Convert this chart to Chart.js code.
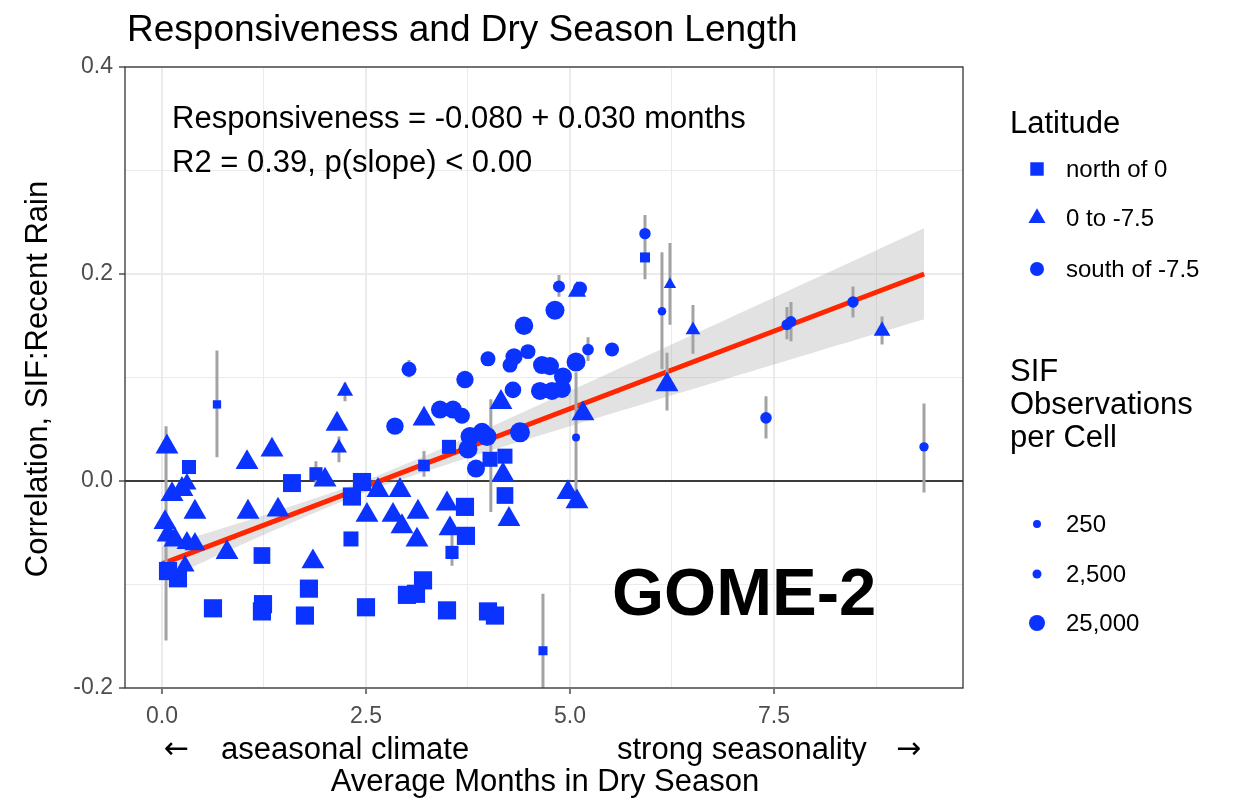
<!DOCTYPE html>
<html>
<head>
<meta charset="utf-8">
<script src="https://cdn.jsdelivr.net/npm/chart.js@4"></script>
<style>
  html, body { margin: 0; padding: 0; background: #fff; }
  #wrap { width: 1236px; height: 800px; }
</style>
</head>
<body>
<div id="wrap"><canvas id="dryChart" width="1236" height="800"></canvas></div>
<script>
// latitude groups: x = months in dry season, y = correlation, obs = SIF observations per cell
const northX = [0.674, 0.331, 1.593, 1.887, 2.451, 2.328, 3.211, 3.517, 3.713, 3.725, 3.554, 2.316, 1.225, 0.074, 0.196, 0.625,
    1.238, 1.225, 1.752, 1.801, 2.500, 3.002, 3.113, 3.199, 3.493, 3.995, 4.081, 4.669, 4.203, 4.020, 4.203, 5.919]
const northY = [0.074, 0.0135, -0.002, 0.007, -0.001, -0.015, 0.015, 0.033, -0.025, -0.053, -0.069, -0.056, -0.072, -0.087, -0.094, -0.123,
    -0.119, -0.126, -0.130, -0.104, -0.122, -0.110, -0.109, -0.096, -0.125, -0.126, -0.130, -0.164, -0.014, 0.021, 0.024, 0.216]
const northObs = [1600, 19500, 37000, 16000, 38000, 38000, 11000, 19500, 38000, 38000, 16000, 23500, 31000, 38000, 38000, 38000,
    38000, 38000, 38000, 38000, 38000, 38000, 38000, 38000, 38000, 38000, 38000, 3400, 31000, 23500, 23500, 6000]

const midX = [0.061, 0.123, 0.245, 0.306, 0.404, 0.037, 0.074, 0.159, 0.306, 0.404, 0.797, 0.282, 1.042, 1.348, 1.054, 1.422,
    1.850, 1.998, 2.243, 2.145, 2.169, 2.512, 2.647, 2.917, 2.831, 2.941, 3.137, 3.125, 3.493, 3.529, 3.211, 4.154,
    4.179, 4.252, 4.975, 5.086, 5.159, 5.086, 6.225, 6.507, 6.189, 8.824]
const midY = [0.033, -0.013, -0.008, -0.003, -0.030, -0.040, -0.052, -0.057, -0.060, -0.061, -0.069, -0.082, 0.018, 0.030, -0.030, -0.028,
    -0.078, 0.001, 0.087, 0.055, 0.032, -0.033, -0.009, -0.009, -0.033, -0.044, -0.030, -0.057, -0.022, -0.046, 0.060, 0.076,
    0.006, -0.037, -0.011, -0.020, 0.065, 0.183, 0.190, 0.146, 0.093, 0.145]
const midObs = [38000, 38000, 38000, 24000, 38000, 38000, 38000, 38000, 30000, 30000, 38000, 24000, 38000, 38000, 38000, 38000,
    38000, 38000, 15000, 38000, 14500, 38000, 38000, 38000, 38000, 38000, 38000, 38000, 38000, 38000, 38000, 38000,
    38000, 38000, 38000, 38000, 38000, 21000, 5300, 11000, 38000, 16500]

const southX = [3.027, 2.855, 3.407, 3.566, 3.676, 3.713, 3.775, 3.922, 3.983, 3.750, 3.848, 4.387, 3.995, 4.314, 4.485, 4.265,
    4.301, 4.436, 4.816, 4.865, 5.123, 4.657, 4.755, 4.914, 4.632, 4.779, 4.902, 5.074, 5.074, 5.221, 5.515, 5.919,
    6.127, 7.659, 7.708, 8.468, 7.402, 9.338]
const southY = [0.108, 0.053, 0.069, 0.069, 0.063, 0.098, 0.043, 0.047, 0.043, 0.031, 0.012, 0.047, 0.118, 0.120, 0.125, 0.112,
    0.088, 0.150, 0.165, 0.188, 0.186, 0.112, 0.111, 0.101, 0.087, 0.087, 0.089, 0.115, 0.042, 0.127, 0.127, 0.239,
    0.164, 0.151, 0.154, 0.173, 0.061, 0.033]
const southObs = [21000, 31000, 34000, 34000, 25000, 31000, 38500, 38500, 38500, 38500, 34000, 43500, 21000, 30000, 21000, 21000,
    27500, 36500, 38500, 10600, 17300, 34000, 34000, 34000, 34000, 34000, 34000, 38500, 250, 9300, 17300, 8800,
    1500, 7600, 7600, 8800, 9300, 3400]

// interval bars that stick out from behind the markers
const errX = [0.674, 0.05, 3.211, 3.554, 4.669, 4.030, 2.243, 2.169, 1.887, 6.225, 6.507, 6.189, 8.824,
    3.027, 4.865, 5.074, 5.221, 5.919, 6.127, 7.659, 7.708, 8.468, 7.402, 9.338]
const errLo = [0.023, -0.154, 0.004, -0.082, -0.215, -0.030, 0.077, 0.018, -0.005, 0.151, 0.123, 0.068, 0.132,
    0.100, 0.178, -0.017, 0.116, 0.195, 0.108, 0.137, 0.135, 0.158, 0.041, -0.011]
const errHi = [0.126, 0.053, 0.029, -0.051, -0.109, 0.079, 0.095, 0.043, 0.019, 0.230, 0.170, 0.124, 0.159,
    0.117, 0.199, 0.105, 0.139, 0.257, 0.221, 0.168, 0.173, 0.188, 0.082, 0.075]

// fitted line and its confidence ribbon
const fitX = [0, 9.34]
const fitY = [-0.080, 0.200]
const bandX = [0, 1.25, 2.5, 3.75, 5, 6.25, 7.5, 8.75, 9.34]
const bandLo = [-0.0965, -0.052, -0.0107, 0.0225, 0.0529, 0.0828, 0.1126, 0.1423, 0.1563]
const bandHi = [-0.0635, -0.033, 0.0007, 0.0425, 0.0871, 0.1322, 0.1774, 0.2227, 0.2441]

const xTicks = [0, 1.25, 2.5, 3.75, 5, 6.25, 7.5, 8.75]
const yTicks = [-0.2, -0.1, 0, 0.1, 0.2, 0.3, 0.4]
const latLabels = ['north of 0', '0 to -7.5', 'south of -7.5']
const sizeLegend = [250, 2500, 25000]

const blue = '#0a33ff'
const font = "'Liberation Sans', Arial, Helvetica, sans-serif"
const shapeScale = { rect: 1.36, triangle: 1.4, circle: 1 }

function radiusFor (obs) {
    return Math.sqrt(15.5 + 0.00194 * obs)
}

const toPoints = (xs, ys) => xs.map((x, i) => ({ x: x, y: ys[i] }))

const isMajor = (v, step) => Math.abs(v / step - Math.round(v / step)) < 1e-6

const errPoints = []
errX.forEach((x, i) => {
    errPoints.push({ x: x, y: errLo[i] }, { x: x, y: errHi[i] }, { x: x, y: null })
})

const markerSet = (label, style, xs, ys, obs, order) => ({
    label: label,
    data: toPoints(xs, ys),
    pointStyle: style,
    pointRadius: obs.map(o => radiusFor(o) * shapeScale[style]),
    backgroundColor: blue,
    borderWidth: 0,
    showLine: false,
    order: order,
})

const decorations = {
    id: 'decorations',
    beforeDatasetsDraw (chart) {
        const { ctx, chartArea, scales } = chart
        const y0 = scales.y.getPixelForValue(0)
        ctx.save()
        ctx.strokeStyle = '#000'
        ctx.lineWidth = 1.5
        ctx.beginPath()
        ctx.moveTo(chartArea.left, y0)
        ctx.lineTo(chartArea.right, y0)
        ctx.stroke()
        ctx.restore()
    },
    afterDatasetsDraw (chart) {
        const { ctx, chartArea } = chart
        ctx.save()
        ctx.strokeStyle = '#333'
        ctx.lineWidth = 1.3
        ctx.strokeRect(chartArea.left, chartArea.top, chartArea.right - chartArea.left, chartArea.bottom - chartArea.top)
        ctx.restore()
    },
    afterDraw (chart) {
        const ctx = chart.ctx
        ctx.save()
        ctx.fillStyle = '#000'
        ctx.textBaseline = 'middle'
        ctx.textAlign = 'left'

        ctx.font = '37px ' + font
        ctx.fillText('Responsiveness and Dry Season Length', 127, 31)

        ctx.font = '31px ' + font
        ctx.fillText('Responsiveness = -0.080 + 0.030 months', 172, 119)
        ctx.fillText('R2 = 0.39, p(slope) < 0.00', 172, 163)

        ctx.font = 'bold 67px ' + font
        ctx.fillText('GOME-2', 612, 597)

        // axis titles
        ctx.font = '31px ' + font
        ctx.fillText('aseasonal climate', 221, 750)
        ctx.fillText('strong seasonality', 617, 750)
        ctx.font = "30px 'DejaVu Sans', sans-serif"
        ctx.fillText('\u2190', 164, 750)
        ctx.fillText('\u2192', 896, 750)
        ctx.textAlign = 'center'
        ctx.font = '31px ' + font
        ctx.fillText('Average Months in Dry Season', 545, 782)
        ctx.save()
        ctx.translate(38, 379)
        ctx.rotate(-Math.PI / 2)
        ctx.fillText('Correlation, SIF:Recent Rain', 0, 0)
        ctx.restore()

        // legends
        ctx.textAlign = 'left'
        ctx.font = '31px ' + font
        ctx.fillText('Latitude', 1010, 124)
        ctx.fillText('SIF', 1010, 372)
        ctx.fillText('Observations', 1010, 405)
        ctx.fillText('per Cell', 1010, 438)

        ctx.font = '24px ' + font
        const styles = ['rect', 'triangle', 'circle']
        const latY = [169, 218, 269]
        styles.forEach((s, i) => {
            ctx.fillStyle = blue
            Chart.helpers.drawPoint(ctx, { pointStyle: s, rotation: 0, borderWidth: 0, radius: 7 * shapeScale[s] }, 1037, latY[i])
            ctx.fillStyle = '#000'
            ctx.fillText(latLabels[i], 1066, latY[i] + 1)
        })

        const sizeY = [524, 574, 623]
        sizeLegend.forEach((o, i) => {
            ctx.fillStyle = blue
            Chart.helpers.drawPoint(ctx, { pointStyle: 'circle', rotation: 0, borderWidth: 0, radius: radiusFor(o) }, 1037, sizeY[i])
            ctx.fillStyle = '#000'
            ctx.fillText(o.toLocaleString('en-US'), 1066, sizeY[i] + 1)
        })
        ctx.restore()
    },
}

new Chart(document.getElementById('dryChart'), {
    type: 'scatter',
    data: {
        datasets: [
            markerSet('south of -7.5', 'circle', southX, southY, southObs, 1),
            markerSet('0 to -7.5', 'triangle', midX, midY, midObs, 2),
            markerSet('north of 0', 'rect', northX, northY, northObs, 3),
            {
                label: 'interval',
                data: errPoints,
                showLine: true,
                spanGaps: false,
                pointRadius: 0,
                borderColor: '#a3a3a3',
                borderWidth: 3,
                order: 5,
            }, {
                label: 'fit',
                data: toPoints(fitX, fitY),
                showLine: true,
                pointRadius: 0,
                borderColor: '#ff2600',
                borderWidth: 5,
                order: 6,
            }, {
                label: 'band high',
                data: toPoints(bandX, bandHi),
                showLine: true,
                pointRadius: 0,
                borderWidth: 0,
                borderColor: 'rgba(0,0,0,0)',
                backgroundColor: 'rgba(150,150,150,0.28)',
                tension: 0.3,
                fill: '+1',
                order: 7,
            }, {
                label: 'band low',
                data: toPoints(bandX, bandLo),
                showLine: true,
                pointRadius: 0,
                borderWidth: 0,
                borderColor: 'rgba(0,0,0,0)',
                tension: 0.3,
                fill: false,
                order: 8,
            }],
    },
    options: {
        responsive: false,
        animation: false,
        events: [],
        layout: {
            padding: { left: 0, top: 67, right: 273, bottom: 0 },
        },
        plugins: {
            legend: { display: false },
            tooltip: { enabled: false },
        },
        scales: {
            x: {
                type: 'linear',
                min: -0.453,
                max: 9.816,
                afterBuildTicks: (axis) => { axis.ticks = xTicks.map(v => ({ value: v })) },
                afterFit: (axis) => { axis.height = 112 },
                border: { display: false },
                grid: {
                    color: '#ebebeb',
                    lineWidth: (c) => isMajor(c.tick.value, 2.5) ? 2 : 1,
                    tickColor: (c) => isMajor(c.tick.value, 2.5) ? '#333' : 'rgba(0,0,0,0)',
                    tickLength: 6,
                    tickWidth: 1.3,
                },
                ticks: {
                    color: '#4d4d4d',
                    padding: 9,
                    maxRotation: 0,
                    autoSkip: false,
                    font: { family: font, size: 23 },
                    callback: (v) => isMajor(v, 2.5) ? v.toFixed(1) : '',
                },
            },
            y: {
                type: 'linear',
                min: -0.2,
                max: 0.4,
                afterBuildTicks: (axis) => { axis.ticks = yTicks.map(v => ({ value: v })) },
                afterFit: (axis) => { axis.width = 125 },
                border: { display: false },
                grid: {
                    color: '#ebebeb',
                    lineWidth: (c) => isMajor(c.tick.value, 0.2) ? 2 : 1,
                    tickColor: (c) => isMajor(c.tick.value, 0.2) ? '#333' : 'rgba(0,0,0,0)',
                    tickLength: 6,
                    tickWidth: 1.3,
                },
                ticks: {
                    color: '#4d4d4d',
                    padding: 6,
                    autoSkip: false,
                    font: { family: font, size: 23 },
                    callback: (v) => isMajor(v, 0.2) ? v.toFixed(1) : '',
                },
            },
        },
    },
    plugins: [decorations],
})
</script>
</body>
</html>
